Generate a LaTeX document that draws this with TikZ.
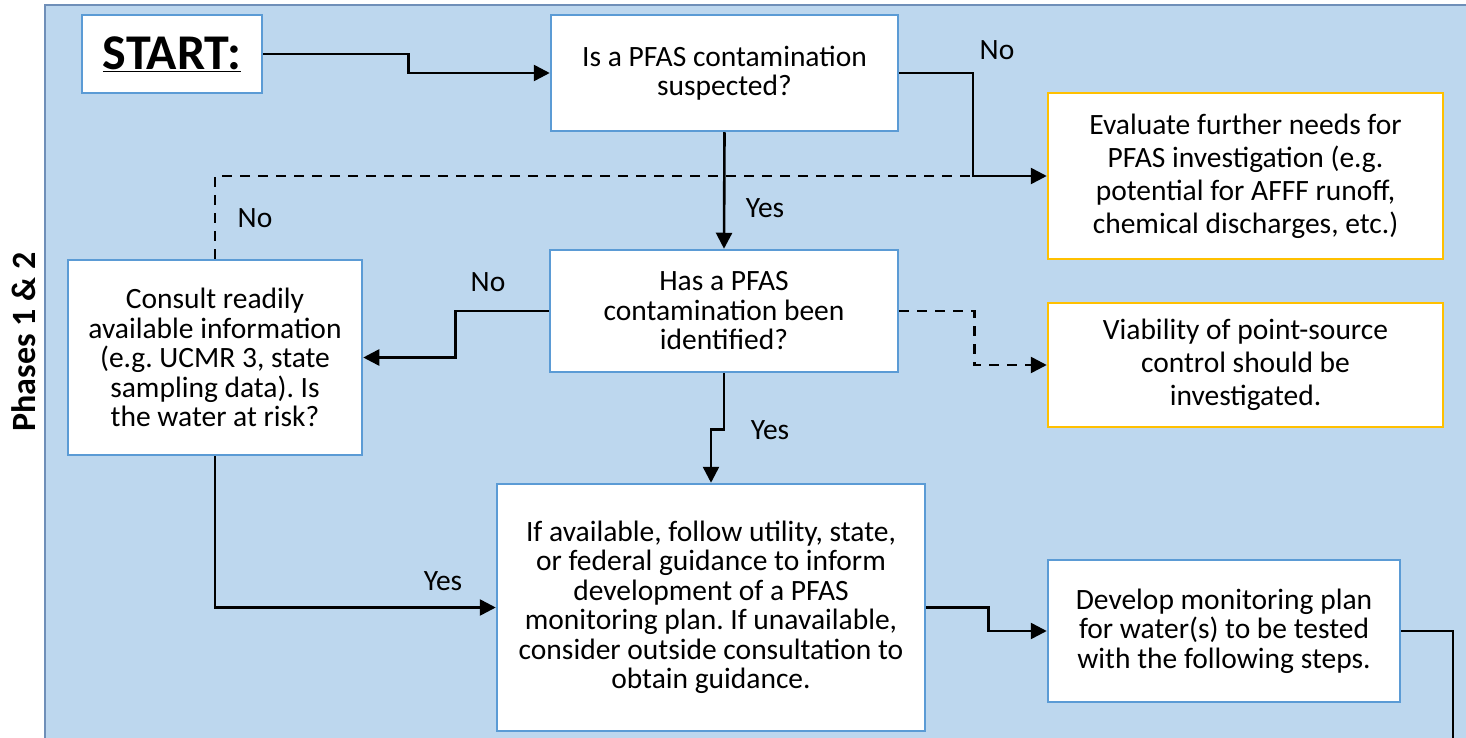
\documentclass[tikz,border=0pt]{standalone}
\usepackage{fontspec}
\setmainfont{Carlito}
\usetikzlibrary{arrows.meta,positioning}
\definecolor{panelblue}{HTML}{BDD7EE}
\definecolor{panelline}{HTML}{6F8FB8}
\definecolor{boxblue}{HTML}{5B9BD5}
\definecolor{boxgold}{HTML}{FFC000}
\frenchspacing
\tikzset{
    stepbox/.style={draw=boxblue, line width=2.5pt, fill=white, align=center,
        inner sep=0pt, font=\fontsize{29.5}{29.5}\selectfont},
    notebox/.style={stepbox, draw=boxgold, font=\fontsize{29.5}{33}\selectfont},
    flow/.style={line width=2.6pt, -{Triangle[length=16pt,width=16pt]}},
    plainflow/.style={line width=2.6pt},
    maybeline/.style={line width=2.6pt, dash pattern=on 10pt off 8pt},
    maybeflow/.style={flow, dash pattern=on 10pt off 8pt},
    answer/.style={font=\fontsize{29.5}{29.5}\selectfont}
}
\begin{document}
\begin{tikzpicture}[x=1pt,y=-1pt]
            \useasboundingbox (0,0) rectangle (1466,738);
            % panel
            \filldraw[fill=panelblue, draw=panelline, line width=2pt]
                (45,5) rectangle (1480,760);
            \node[
                rotate=90,
                font=\bfseries\fontsize{34}{40}\selectfont,
                name=phase
            ] at (24,342) {Phases 1 \& 2};

            \node[
                stepbox,
                minimum width=180pt,
                minimum height=78pt,
                font=\bfseries\fontsize{50}{56}\selectfont,
                name=start
            ] at (172,54) {\underline{START:}};
            \node[
                stepbox,
                minimum width=347pt,
                minimum height=116pt,
                name=suspect
            ] at (724.5,73) {Is a PFAS contamination\\suspected?};
            \node[
                notebox,
                minimum width=395pt,
                minimum height=166pt,
                name=evaluate
            ] at (1245.5,176) {Evaluate further needs for\\PFAS investigation (e.g.\\potential for AFFF runoff,\\chemical discharges, etc.)};
            \node[
                stepbox,
                minimum width=348pt,
                minimum height=122pt,
                name=found
            ] at (724,311) {Has a PFAS\\contamination been\\identified?};
            \node[
                notebox,
                minimum width=395pt,
                minimum height=124pt,
                name=viable
            ] at (1245.5,365) {Viability of point-source\\control should be\\investigated.};
            \node[
                stepbox,
                minimum width=294pt,
                minimum height=195pt,
                name=consult
            ] at (215,357.5) {Consult readily\\available information\\(e.g. UCMR 3, state\\sampling data). Is\\the water at risk?};
            \node[
                stepbox,
                minimum width=428pt,
                minimum height=247pt,
                name=guide
            ] at (711,607.5) {If available, follow utility, state,\\or federal guidance to inform\\development of a PFAS\\monitoring plan. If unavailable,\\consider outside consultation to\\obtain guidance.};
            \node[
                stepbox,
                minimum width=352pt,
                minimum height=142pt,
                name=develop
            ] at (1224,631) {Develop monitoring plan\\for water(s) to be tested\\with the following steps.};

            \coordinate (join) at (973,176);
            \coordinate (exit) at (1453,760);

            \draw[flow] (start.east) -- ++(145,0) |- (suspect.west);
            \draw[flow] (suspect.east) -| (join) -- (evaluate.west);
            \draw[flow] (suspect.south) -- (found.north);
            \draw[maybeline] (consult.north) |- (join);
            \draw[flow] (found.west) -- ++(-93,0) |- (consult.east);
            \draw[maybeflow] (found.east) -- ++(75,0) |- (viable.west);
            \draw[flow] (found.south) -- ++(0,56) -| (guide.north);
            \draw[flow] (consult.south) |- (guide.west);
            \draw[flow] (guide.east) -- ++(62,0) |- (develop.west);
            \draw[plainflow] (develop.east) -| (exit);

            \node[answer, name=nosuspect] at (997,50) {No};
            \node[answer, name=yessuspect] at (765,208) {Yes};
            \node[answer, name=norisk] at (255,218) {No};
            \node[answer, name=nofound] at (488,282) {No};
            \node[answer, name=yesfound] at (770,430) {Yes};
            \node[answer, name=yesrisk] at (443,581) {Yes};
\end{tikzpicture}
\end{document}
